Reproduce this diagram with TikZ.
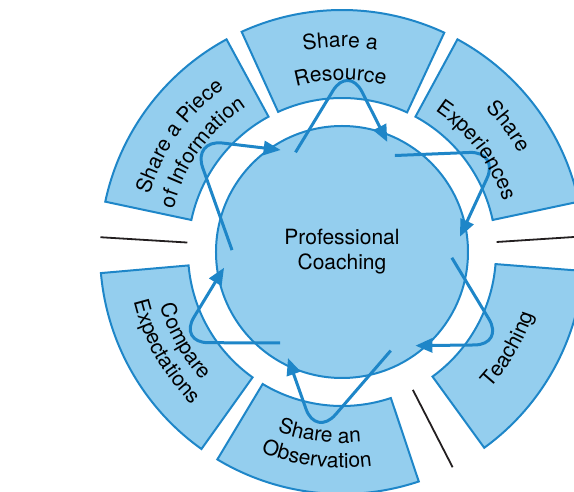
\documentclass[tikz,border=0pt]{standalone}
\usepackage{fontspec}
\setmainfont{TeX Gyre Heros}
\usepackage{tikz}
\usetikzlibrary{arrows.meta, decorations.text}
\definecolor{coachblue}{RGB}{30,134,200}
\definecolor{coachfill}{RGB}{148,206,238}
\definecolor{divblack}{RGB}{35,31,32}

\newcommand{\ringfont}{\fontsize{21}{25}\selectfont}
% text bent along the ring: centre angle, radius, text
\newcommand{\cwlabel}[3]{%
  \path[decorate, decoration={text along path, text align=center,
        text={|\ringfont|#3}}]
    ({#1+40}:#2) arc[start angle={#1+40}, end angle={#1-40}, radius=#2];}
\newcommand{\ccwlabel}[3]{%
  \path[decorate, decoration={text along path, text align=center,
        text={|\ringfont|#3}}]
    ({#1-40}:#2) arc[start angle={#1-40}, end angle={#1+40}, radius=#2];}

\begin{document}
\begin{tikzpicture}[
  x=1pt, y=1pt,
  sector/.style={draw=coachblue, fill=coachfill, line width=2pt, line join=miter},
  hub/.style={circle, draw=coachblue, fill=coachfill, line width=2pt,
              minimum size=252pt, inner sep=0pt, align=center, font=\ringfont},
  flow/.style={draw=coachblue, line width=3pt, rounded corners=30pt,
               -{Triangle[length=17pt, width=14pt]}},
  divider/.style={draw=divblack, line width=1.8pt}
]
\useasboundingbox (-342,-240) rectangle (232,252);
\clip (-342,-240) rectangle (232,252);

% ===== Outer ring of activities =====
\foreach \a/\b in {12/61.5, 65/114.5, 118.5/168, 185/234.5, 239/288.5, 306/355.5}
  \draw[sector] (\a:154) arc[start angle=\a, end angle=\b, radius=154]
    -- (\b:242) arc[start angle=\b, end angle=\a, radius=242] -- cycle;

% ===== Dividers between the groups =====
\foreach \t in {3.7, 176.5, 297.2}
  \draw[divider] (\t:155) -- (\t:242);

% ===== Centre =====
\node[hub] (hub) at (0,0) {Professional\\Coaching};

% ===== Loops round the centre =====
\foreach \s/\m/\e in {115/88/67.6, 61.3/32.6/7.4, -3/-29.7/-51.9,
                      -63.7/-98/-117, -124.3/-151/-172.4, 179/143/121}
  \draw[flow] (\s:110) -- (\m:187) -- (\e:119);

% ===== Ring labels =====
\cwlabel{90.5}{205}{Share a}
\cwlabel{90.5}{172}{Resource}
\cwlabel{144.6}{201}{Share a Piece}
\cwlabel{144.6}{174}{of Information}
\cwlabel{37}{203}{Share}
\cwlabel{37}{169}{Experiences}
\ccwlabel{209.5}{190}{Compare}
\ccwlabel{209.5}{214}{Expectations}
\ccwlabel{263}{191}{Share an}
\ccwlabel{263}{216}{Observation}
\ccwlabel{329.7}{201}{Teaching}

\end{tikzpicture}
\end{document}
